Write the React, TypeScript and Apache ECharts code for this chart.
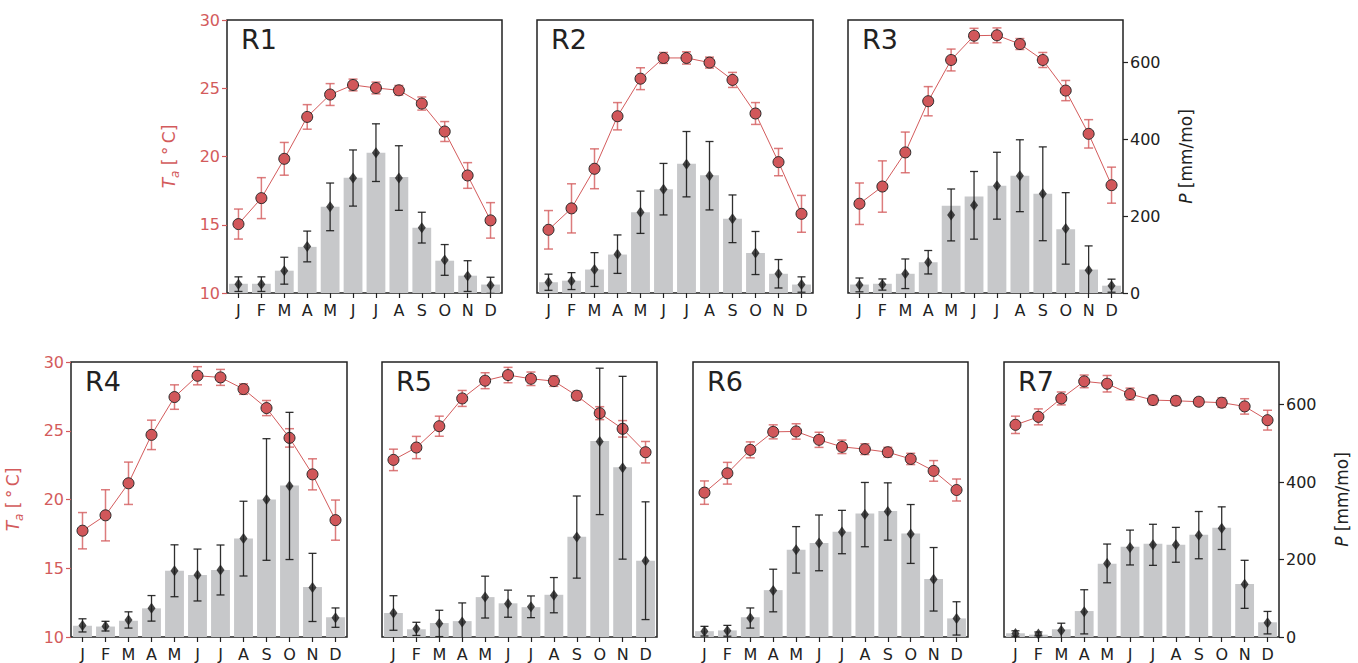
import React, { useEffect, useRef } from "react";
import * as echarts from "echarts";

const MONTHS = ["J", "F", "M", "A", "M", "J", "J", "A", "S", "O", "N", "D"];
const REGIONS = ["R1", "R2", "R3", "R4", "R5", "R6", "R7"];
const TA_TICKS = [10, 15, 20, 25, 30];
const P_TICKS = [0, 200, 400, 600];

// Air temperature (°C) and its error
const R1_TA = [15.05, 16.95, 19.83, 22.9, 24.54, 25.24, 25.02, 24.85, 23.88, 21.83, 18.61, 15.32];
const R1_TA_ERR = [1.1, 1.5, 1.2, 0.9, 0.8, 0.43, 0.43, 0.35, 0.48, 0.73, 0.94, 1.3];
const R2_TA = [14.63, 16.2, 19.1, 22.95, 25.7, 27.22, 27.22, 26.88, 25.61, 23.15, 19.59, 15.8];
const R2_TA_ERR = [1.41, 1.8, 1.46, 1.0, 0.8, 0.4, 0.45, 0.4, 0.55, 0.8, 1.0, 1.35];
const R3_TA = [16.54, 17.8, 20.3, 24.05, 27.07, 28.85, 28.88, 28.24, 27.07, 24.83, 21.66, 17.9];
const R3_TA_ERR = [1.52, 1.88, 1.49, 1.07, 0.8, 0.54, 0.54, 0.4, 0.55, 0.74, 1.04, 1.32];
const R4_TA = [17.73, 18.85, 21.18, 24.7, 27.45, 29.0, 28.88, 28.03, 26.65, 24.48, 21.83, 18.5];
const R4_TA_ERR = [1.32, 1.86, 1.54, 1.07, 0.89, 0.66, 0.58, 0.38, 0.55, 0.67, 1.13, 1.46];
const R5_TA = [22.88, 23.78, 25.33, 27.35, 28.64, 29.05, 28.78, 28.61, 27.55, 26.28, 25.14, 23.44];
const R5_TA_ERR = [0.78, 0.81, 0.73, 0.58, 0.58, 0.56, 0.49, 0.38, 0.33, 0.47, 0.6, 0.78];
const R6_TA = [20.5, 21.91, 23.61, 24.92, 24.95, 24.34, 23.83, 23.66, 23.44, 22.95, 22.08, 20.69];
const R6_TA_ERR = [0.85, 0.79, 0.58, 0.51, 0.56, 0.55, 0.49, 0.39, 0.35, 0.41, 0.75, 0.8];
const R7_TA = [25.43, 26.01, 27.35, 28.59, 28.42, 27.67, 27.23, 27.18, 27.11, 27.04, 26.77, 25.77];
const R7_TA_ERR = [0.63, 0.58, 0.47, 0.46, 0.6, 0.43, 0.33, 0.32, 0.26, 0.34, 0.56, 0.72];

// Precipitation (mm/mo): bars, markers and marker error
const R1_P_BAR = [24, 24, 58, 120, 224, 300, 365, 302, 170, 84, 45, 22];
const R1_P_MARK = [23, 23, 58, 121, 224, 299, 365, 299, 170, 86, 44, 20];
const R1_P_ERR = [19, 19, 35, 40, 62, 73, 75, 84, 40, 40, 40, 21];
const R2_P_BAR = [28, 32, 61, 100, 210, 270, 336, 306, 193, 104, 50, 22];
const R2_P_MARK = [28, 31, 61, 101, 210, 270, 335, 305, 193, 104, 50, 22];
const R2_P_ERR = [21, 22, 44, 50, 55, 67, 85, 89, 62, 56, 37, 20];
const R3_P_BAR = [22, 24, 50, 80, 227, 251, 279, 305, 258, 166, 61, 19];
const R3_P_MARK = [21, 22, 50, 80, 203, 228, 279, 305, 258, 168, 59, 19];
const R3_P_ERR = [18, 14.5, 38.5, 30.5, 67.5, 88, 87, 93.5, 122, 93, 63.5, 17];
const R4_P_BAR = [29, 27, 42, 74, 171, 160, 173, 254, 355, 391, 129, 51];
const R4_P_MARK = [30, 28, 44, 74, 171, 160, 173, 254, 355, 390, 128, 50];
const R4_P_ERR = [17, 12.5, 21, 33, 67, 67, 64.5, 96.5, 157, 190, 88, 25];
const R5_P_BAR = [62, 20, 36, 41, 103, 87, 77, 109, 259, 506, 438, 197];
const R5_P_MARK = [62, 21, 35, 39, 103, 86, 78, 108, 258, 505, 437, 197];
const R5_P_ERR = [44.6, 17, 34, 49, 54, 35, 28, 45.5, 106, 189, 236, 152];
const R6_P_BAR = [15, 17, 51, 121, 225, 243, 272, 319, 325, 267, 150, 48];
const R6_P_MARK = [15, 16, 49, 120, 225, 243, 271, 316, 324, 266, 149, 48];
const R6_P_ERR = [12.5, 14, 26, 55, 60, 72, 56, 83, 74, 76, 82, 43];
const R7_P_BAR = [10, 6, 20, 67, 189, 233, 241, 238, 264, 282, 137, 38];
const R7_P_MARK = [9, 8, 17, 65, 190, 231, 238, 238, 263, 281, 136, 37];
const R7_P_ERR = [7, 5, 18.6, 57, 50, 45, 53, 45, 61, 55, 62, 29];

const TA = [R1_TA, R2_TA, R3_TA, R4_TA, R5_TA, R6_TA, R7_TA];
const TA_ERR = [R1_TA_ERR, R2_TA_ERR, R3_TA_ERR, R4_TA_ERR, R5_TA_ERR, R6_TA_ERR, R7_TA_ERR];
const P_BAR = [R1_P_BAR, R2_P_BAR, R3_P_BAR, R4_P_BAR, R5_P_BAR, R6_P_BAR, R7_P_BAR];
const P_MARK = [R1_P_MARK, R2_P_MARK, R3_P_MARK, R4_P_MARK, R5_P_MARK, R6_P_MARK, R7_P_MARK];
const P_ERR = [R1_P_ERR, R2_P_ERR, R3_P_ERR, R4_P_ERR, R5_P_ERR, R6_P_ERR, R7_P_ERR];

const FONT = "DejaVu Sans";
const RED = "#d35b5c";
const DARK = "#222222";

const LAYOUT = [
  { left: 227, top: 20, width: 275, height: 273 },
  { left: 537, top: 20, width: 276, height: 273 },
  { left: 848, top: 20, width: 275, height: 273 },
  { left: 71, top: 362, width: 276, height: 275 },
  { left: 382, top: 362, width: 275, height: 275 },
  { left: 693, top: 362, width: 275, height: 275 },
  { left: 1004, top: 362, width: 275, height: 275 },
];

function errRender(color: string, width: number, hw: number, opacity: number) {
  return (params: any, api: any) => {
    const x = api.value(0);
    const p1 = api.coord([x, api.value(1)]);
    const p2 = api.coord([x, api.value(2)]);
    const style = { stroke: color, lineWidth: width, opacity };
    return {
      type: "group",
      children: [
        { type: "line", shape: { x1: p1[0], y1: p1[1], x2: p2[0], y2: p2[1] }, style },
        { type: "line", shape: { x1: p1[0] - hw, y1: p1[1], x2: p1[0] + hw, y2: p1[1] }, style },
        { type: "line", shape: { x1: p2[0] - hw, y1: p2[1], x2: p2[0] + hw, y2: p2[1] }, style },
      ],
    };
  };
}

export default function App() {
  const ref = useRef<HTMLDivElement>(null);
  useEffect(() => {
    document.body.style.margin = "0";
    const chart = echarts.init(ref.current!, null, { renderer: "svg" });
    const grids: any[] = [];
    const xAxes: any[] = [];
    const yAxes: any[] = [];
    const series: any[] = [];
    const graphics: any[] = [];
    LAYOUT.forEach((l, g) => {
      grids.push({ ...l, show: true, borderColor: DARK, borderWidth: 1.5, backgroundColor: "transparent" });
      xAxes.push({
        type: "category",
        gridIndex: g,
        data: MONTHS,
        boundaryGap: true,
        axisLine: { show: false },
        axisTick: { show: true, alignWithLabel: true, length: 5, lineStyle: { color: DARK, width: 1.2 } },
        axisLabel: { color: DARK, fontSize: 16, fontFamily: FONT, margin: 9, interval: 0 },
        splitLine: { show: false },
      });
      const showTa = g === 0 || g === 3;
      const showP = g === 2 || g === 6;
      yAxes.push({
        type: "value",
        gridIndex: g,
        min: 10,
        max: 30,
        interval: 5,
        position: "left",
        show: showTa,
        axisLine: { show: false },
        axisTick: { show: true, length: 5, lineStyle: { color: RED, width: 1.2 }, customValues: TA_TICKS },
        axisLabel: { color: RED, fontSize: 16, fontFamily: FONT, margin: 7, customValues: TA_TICKS },
        splitLine: { show: false },
        name: "{it|T}{sub|a}{n| [\u2009°\u2009C]}",
        nameLocation: "middle",
        nameRotate: 90,
        nameGap: 46,
        nameTextStyle: {
          color: RED,
          fontSize: 17,
          fontFamily: FONT,
          rich: {
            it: { fontStyle: "italic", fontSize: 17, color: RED, fontFamily: FONT, lineHeight: 22, verticalAlign: "bottom", padding: [0, 0, 4, 0] },
            sub: { fontStyle: "italic", fontSize: 12, color: RED, fontFamily: FONT, lineHeight: 22, verticalAlign: "bottom", padding: [0, 0, 0, 0] },
            n: { fontSize: 17, color: RED, fontFamily: FONT, lineHeight: 22, verticalAlign: "bottom", padding: [0, 0, 4, 0] },
          },
        },
      });
      yAxes.push({
        type: "value",
        gridIndex: g,
        min: 0,
        max: 710,
        position: "right",
        show: showP,
        axisLine: { show: false },
        axisTick: { show: true, length: 5, lineStyle: { color: DARK, width: 1.2 }, customValues: P_TICKS },
        axisLabel: { color: DARK, fontSize: 16, fontFamily: FONT, margin: 7, customValues: P_TICKS },
        splitLine: { show: false },
        name: "{it|P} [mm/mo]",
        nameLocation: "middle",
        nameRotate: 90,
        nameGap: 54,
        nameTextStyle: {
          color: DARK,
          fontSize: 17,
          fontFamily: FONT,
          rich: { it: { fontStyle: "italic", fontSize: 17, color: DARK, fontFamily: FONT } },
        },
      });
      const yt = 2 * g;
      const yp = 2 * g + 1;
      series.push({
        type: "bar",
        xAxisIndex: g,
        yAxisIndex: yp,
        data: P_BAR[g],
        barCategoryGap: "18%",
        itemStyle: { color: "#c7c8ca" },
        z: 1,
        silent: true,
      });
      series.push({
        type: "custom",
        xAxisIndex: g,
        yAxisIndex: yt,
        data: TA[g].map((v, i) => [i, v - TA_ERR[g][i], v + TA_ERR[g][i]]),
        encode: { x: 0, y: [1, 2] },
        renderItem: errRender(RED, 1.5, 4.5, 0.8),
        clip: true,
        z: 2,
        silent: true,
      });
      series.push({
        type: "line",
        xAxisIndex: g,
        yAxisIndex: yt,
        data: TA[g],
        symbol: "circle",
        symbolSize: 11,
        lineStyle: { color: RED, width: 1 },
        itemStyle: { color: "#d1575a", borderColor: "#2a2a2a", borderWidth: 1 },
        z: 3,
        silent: true,
      });
      series.push({
        type: "custom",
        xAxisIndex: g,
        yAxisIndex: yp,
        data: P_MARK[g].map((v, i) => [i, v - P_ERR[g][i], v + P_ERR[g][i]]),
        encode: { x: 0, y: [1, 2] },
        renderItem: errRender("#1a1a1a", 1.3, 4, 0.9),
        clip: true,
        z: 4,
        silent: true,
      });
      series.push({
        type: "scatter",
        xAxisIndex: g,
        yAxisIndex: yp,
        data: P_MARK[g],
        symbol: "diamond",
        symbolSize: [8, 11],
        itemStyle: { color: "#1a1a1a" },
        z: 5,
        silent: true,
      });
      graphics.push({
        type: "text",
        left: l.left + 14,
        top: l.top + 6,
        style: { text: REGIONS[g], fontSize: 27, fontFamily: FONT, fill: DARK },
        z: 10,
      });
    });
    chart.setOption({
      animation: false,
      grid: grids,
      xAxis: xAxes,
      yAxis: yAxes,
      series,
      graphic: graphics,
    });
    return () => chart.dispose();
  }, []);
  return <div ref={ref} style={{ width: 1358, height: 663 }} />;
}
